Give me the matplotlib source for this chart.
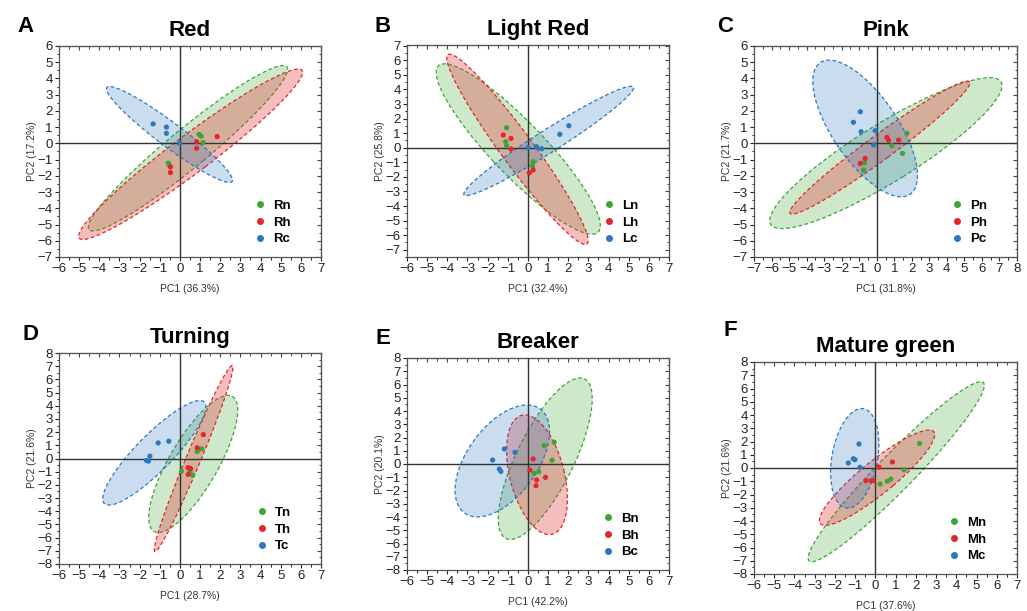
import matplotlib
matplotlib.use("Agg")
import matplotlib.pyplot as plt
from matplotlib.patches import Ellipse
from matplotlib.lines import Line2D
from matplotlib.ticker import MultipleLocator, NullFormatter

plt.rcParams['font.family'] = ['Liberation Sans', 'DejaVu Sans']

GREEN = '#3ea535'
RED = '#e3262b'
BLUE = '#2b78c0'

# ---- A: Red ----
rn_pc1 = [0.95, 1.05, 1.15, -0.58, -0.53]
rn_pc2 = [0.55, 0.45, 0.05, -1.22, -1.35]
rh_pc1 = [0.83, 0.83, 1.85, -0.47, -0.47]
rh_pc2 = [0.10, -0.30, 0.42, -1.45, -1.80]
rc_pc1 = [-1.33, -0.67, -0.67, 0.0]
rc_pc2 = [1.20, 1.00, 0.62, 0.0]
# confidence ellipses: centre x, centre y, semi-major, semi-minor, angle (deg)
rn_ell = [0.40, -0.30, 7.02, 1.08, 45.9]
rh_ell = [0.53, -0.67, 7.57, 1.06, 43.3]
rc_ell = [-0.52, 0.55, 4.25, 0.68, -43.3]

# ---- B: Light Red ----
ln_pc1 = [-1.06, -1.10, -1.06, 0.23, 0.26]
ln_pc2 = [1.37, 0.41, 0.14, -1.26, -0.96]
lh_pc1 = [-1.22, -0.84, -0.84, 0.07, 0.26]
lh_pc2 = [0.87, 0.64, -0.09, -1.72, -1.53]
lc_pc1 = [1.58, 2.03, 0.43, 0.68, 0.0]
lc_pc2 = [0.92, 1.51, 0.07, -0.07, 0.0]
ln_ell = [-0.48, -0.09, 6.97, 1.50, -56.2]
lh_ell = [-0.52, -0.11, 7.36, 0.88, -62.3]
lc_ell = [1.03, 0.47, 5.60, 0.69, 41.6]

# ---- C: Pink ----
pn_pc1 = [1.72, 0.86, 1.47, -0.70, -0.75]
pn_pc2 = [0.62, -0.14, -0.62, -1.20, -1.65]
ph_pc1 = [0.58, 0.67, 1.25, -0.66, -0.94]
ph_pc2 = [0.37, 0.20, 0.20, -0.93, -1.23]
pc_pc1 = [-0.94, -1.33, -0.89, -0.09, -0.18]
pc_pc2 = [1.95, 1.30, 0.72, 0.78, -0.10]
pn_ell = [0.52, -0.60, 7.90, 1.75, 34.0]
ph_ell = [0.18, -0.26, 6.53, 0.75, 38.4]
pc_ell = [-0.66, 0.92, 4.80, 1.90, -58.5]

# ---- D: Turning ----
tn_pc1 = [1.08, 0.86, 0.08, 0.63, 0.50]
tn_pc2 = [0.73, 0.53, -0.96, -1.26, -0.96]
th_pc1 = [1.16, 0.86, 0.41, 0.53, 0.41]
th_pc2 = [1.81, 0.81, -0.70, -0.76, -1.21]
tc_pc1 = [-1.08, -0.55, -1.49, -1.66, -1.56]
tc_pc2 = [1.18, 1.31, 0.18, -0.15, -0.20]
tn_ell = [0.66, -0.41, 5.50, 1.30, 70.5]
th_ell = [0.68, 0.00, 7.31, 0.38, 74.8]
tc_ell = [-1.27, 0.43, 4.60, 1.05, 58.6]

# ---- E: Breaker ----
bn_pc1 = [0.81, 1.30, 1.20, 0.31, 0.54]
bn_pc2 = [1.39, 1.64, 0.28, -0.71, -0.58]
bh_pc1 = [0.26, 0.10, 0.43, 0.40, 0.87]
bh_pc2 = [0.38, -0.45, -1.21, -1.64, -1.01]
bc_pc1 = [-1.75, -1.17, -1.42, -1.34, -0.64]
bc_pc2 = [0.30, 1.14, -0.38, -0.56, 0.88]
bn_ell = [0.86, 0.40, 6.35, 1.50, 73.2]
bh_ell = [0.45, -0.81, 4.56, 1.37, 98.4]
bc_ell = [-1.27, 0.23, 4.44, 1.90, 70.0]

# ---- F: Mature green ----
mn_pc1 = [2.18, 1.42, 0.76, 0.59, 0.23]
mn_pc2 = [1.84, -0.13, -0.83, -1.00, -1.21]
mh_pc1 = [0.18, 0.84, -0.46, -0.21, -0.10]
mh_pc2 = [0.05, 0.45, -0.96, -0.96, -0.96]
mc_pc1 = [-0.81, -1.09, -1.01, -1.34, -0.76]
mc_pc2 = [1.81, 0.70, 0.63, 0.38, 0.05]
mn_ell = [1.03, -0.28, 8.00, 1.05, 57.8]
mh_ell = [0.08, -0.73, 4.48, 1.00, 52.3]
mc_ell = [-1.02, 0.73, 3.77, 1.14, 84.3]

W, H = 1027, 611
fig = plt.figure(figsize=(W / 100, H / 100), dpi=100)


def box(left, top, right, bottom):
    return [left / W, 1 - bottom / H, (right - left) / W, (bottom - top) / H]


def panel(rect, letter, letter_xy, title, xlim, ylim, pc1, pc2, groups):
    ax = fig.add_axes(rect)
    ax.set_xlim(xlim)
    ax.set_ylim(ylim)
    colors = [GREEN, RED, BLUE]
    for (name, xs, ys, ell), col in zip(groups, colors):
        alpha = 0.3 if col == RED else 0.25
        e = Ellipse((ell[0], ell[1]), 2 * ell[2], 2 * ell[3], angle=ell[4],
                    facecolor=matplotlib.colors.to_rgba(col, alpha),
                    edgecolor=col, lw=0.9, linestyle=(0, (3, 2)), zorder=2)
        ax.add_patch(e)
    ax.axhline(0, color='#333333', lw=1.0, zorder=3)
    ax.axvline(0, color='#333333', lw=1.0, zorder=3)
    handles = []
    for (name, xs, ys, ell), col in zip(groups, colors):
        ax.scatter(xs, ys, s=14, color=col, edgecolors='none', zorder=4)
        handles.append(Line2D([], [], marker='o', ls='none', color=col,
                              markersize=4, label=name))
    ax.legend(handles=handles, loc='lower right', frameon=False,
              bbox_to_anchor=(0.905, 0.03), borderaxespad=0,
              handletextpad=0.5, labelspacing=0.35, handlelength=1.0,
              prop={'weight': 'bold', 'size': 9.5})

    ax.xaxis.set_major_locator(MultipleLocator(1))
    ax.yaxis.set_major_locator(MultipleLocator(1))
    ax.xaxis.set_minor_locator(MultipleLocator(0.5))
    ax.yaxis.set_minor_locator(MultipleLocator(0.5))
    ax.tick_params(which='major', direction='out', length=3, width=0.8,
                   labelsize=9.5, pad=1.5, colors='#222222')
    ax.tick_params(which='minor', direction='out', length=1.8, width=0.7,
                   colors='#222222')
    for side in ['top', 'right']:
        if side == 'top':
            sec = ax.secondary_xaxis('top')
        else:
            sec = ax.secondary_yaxis('right')
        axis = sec.xaxis if side == 'top' else sec.yaxis
        axis.set_major_locator(MultipleLocator(1))
        axis.set_minor_locator(MultipleLocator(0.5))
        axis.set_major_formatter(NullFormatter())
        sec.tick_params(which='major', direction='in', length=3, width=0.8,
                        colors='#444444')
        sec.tick_params(which='minor', direction='in', length=1.8, width=0.7,
                        colors='#444444')
        sec.spines[side].set_color('#555555')
    for s in ax.spines.values():
        s.set_color('#555555')
        s.set_linewidth(0.9)

    ax.set_xlabel(pc1, fontsize=7.5, color='#333333', labelpad=6.5)
    ax.set_ylabel(pc2, fontsize=7.5, color='#333333', labelpad=0.5)
    ax.set_title(title, fontsize=16, fontweight='bold', pad=7)
    fig.text(letter_xy[0] / W, 1 - letter_xy[1] / H, letter, fontsize=16,
             fontweight='bold', ha='center', va='center')
    return ax


panel(box(59, 46, 321, 257), 'A', (25, 27), 'Red', (-6, 7), (-7, 6),
      'PC1 (36.3%)', 'PC2 (17.2%)',
      [('Rn', rn_pc1, rn_pc2, rn_ell), ('Rh', rh_pc1, rh_pc2, rh_ell),
       ('Rc', rc_pc1, rc_pc2, rc_ell)])
panel(box(407, 45, 669, 257), 'B', (383, 27), 'Light Red', (-6, 7), (-7.5, 7.05),
      'PC1 (32.4%)', 'PC2 (25.8%)',
      [('Ln', ln_pc1, ln_pc2, ln_ell), ('Lh', lh_pc1, lh_pc2, lh_ell),
       ('Lc', lc_pc1, lc_pc2, lc_ell)])
panel(box(754, 46, 1017, 257), 'C', (725, 27), 'Pink', (-7, 8), (-7, 6),
      'PC1 (31.8%)', 'PC2 (21.7%)',
      [('Pn', pn_pc1, pn_pc2, pn_ell), ('Ph', ph_pc1, ph_pc2, ph_ell),
       ('Pc', pc_pc1, pc_pc2, pc_ell)])
panel(box(59, 353, 321, 564), 'D', (30, 335), 'Turning', (-6, 7), (-8, 8),
      'PC1 (28.7%)', 'PC2 (21.6%)',
      [('Tn', tn_pc1, tn_pc2, tn_ell), ('Th', th_pc1, th_pc2, th_ell),
       ('Tc', tc_pc1, tc_pc2, tc_ell)])
panel(box(407, 358, 669, 570), 'E', (383, 338), 'Breaker', (-6, 7), (-8, 8),
      'PC1 (42.2%)', 'PC2 (20.1%)',
      [('Bn', bn_pc1, bn_pc2, bn_ell), ('Bh', bh_pc1, bh_pc2, bh_ell),
       ('Bc', bc_pc1, bc_pc2, bc_ell)])
panel(box(754, 362, 1017, 574), 'F', (730, 330), 'Mature green', (-6, 7), (-8, 8),
      'PC1 (37.6%)', 'PC2 (21.6%)',
      [('Mn', mn_pc1, mn_pc2, mn_ell), ('Mh', mh_pc1, mh_pc2, mh_ell),
       ('Mc', mc_pc1, mc_pc2, mc_ell)])

fig.savefig('out.png', dpi=100)
